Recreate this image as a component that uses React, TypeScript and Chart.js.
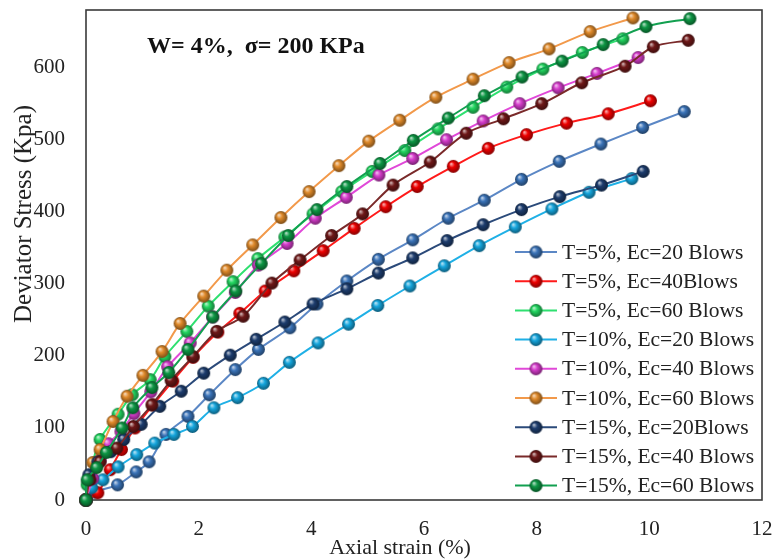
import React, { useEffect, useRef } from "react";
import { Chart, registerables } from "chart.js";

Chart.register(...registerables);

// ---------- data ----------
const seriesNames = [
  "T=5%, Ec=20 Blows",
  "T=5%, Ec=40Blows",
  "T=5%, Ec=60 Blows",
  "T=10%, Ec=20 Blows",
  "T=10%, Ec=40 Blows",
  "T=10%, Ec=60 Blows",
  "T=15%, Ec=20Blows",
  "T=15%, Ec=40 Blows",
  "T=15%, Ec=60 Blows",
];

const xTicks = [0, 2, 4, 6, 8, 10, 12];
const yTicks = [0, 100, 200, 300, 400, 500, 600];

const t5e20Strain = [0, 0.16, 0.56, 0.89, 1.12, 1.42, 1.81, 2.19, 2.65, 3.06, 3.62, 4.1, 4.63, 5.19, 5.8, 6.43, 7.07, 7.73, 8.4, 9.14, 9.88, 10.62];
const t5e20Stress = [0, 11, 21, 39, 53, 91, 116, 146, 181, 209, 239, 272, 304, 334, 361, 391, 416, 445, 470, 494, 517, 539];

const t5e40Strain = [0, 0.21, 0.43, 0.63, 0.87, 1.19, 1.54, 1.9, 2.34, 2.73, 3.18, 3.69, 4.21, 4.76, 5.32, 5.88, 6.52, 7.14, 7.82, 8.53, 9.27, 10.02];
const t5e40Stress = [0, 10, 42, 70, 100, 132, 165, 198, 233, 259, 290, 318, 346, 377, 407, 435, 463, 488, 507, 523, 536, 554];

const t5e60Strain = [0, 0.02, 0.25, 0.57, 0.82, 1.14, 1.4, 1.79, 2.17, 2.61, 3.05, 3.53, 4.03, 4.54, 5.08, 5.66, 6.25, 6.87, 7.47, 8.11, 8.81, 9.53];
const t5e60Stress = [0, 21, 84, 119, 146, 167, 199, 234, 269, 303, 335, 365, 397, 428, 456, 485, 515, 545, 573, 598, 621, 640];

const t10e20Strain = [0, 0.1, 0.3, 0.57, 0.9, 1.22, 1.56, 1.89, 2.27, 2.69, 3.15, 3.61, 4.12, 4.66, 5.18, 5.75, 6.36, 6.98, 7.62, 8.27, 8.93, 9.69];
const t10e20Stress = [0, 17, 28, 46, 63, 79, 91, 102, 128, 142, 162, 191, 218, 244, 270, 297, 325, 353, 379, 404, 427, 446];

const t10e40Strain = [0, 0.12, 0.25, 0.4, 0.62, 0.85, 1.15, 1.45, 1.85, 2.25, 2.65, 3.06, 3.57, 4.07, 4.62, 5.2, 5.8, 6.4, 7.05, 7.7, 8.38, 9.07, 9.8];
const t10e40Stress = [0, 30, 55, 78, 95, 120, 150, 185, 218, 254, 288, 326, 356, 391, 420, 451, 474, 500, 526, 550, 572, 592, 614];

const t10e60Strain = [0, 0.12, 0.25, 0.48, 0.73, 1.01, 1.35, 1.67, 2.09, 2.5, 2.96, 3.46, 3.96, 4.49, 5.02, 5.57, 6.21, 6.87, 7.51, 8.22, 8.95, 9.71];
const t10e60Stress = [0, 52, 70, 109, 144, 173, 206, 245, 283, 319, 354, 392, 428, 464, 498, 527, 559, 584, 607, 626, 650, 669];

const t15e20Strain = [0, 0.05, 0.21, 0.44, 0.67, 0.98, 1.31, 1.69, 2.09, 2.56, 3.02, 3.53, 4.03, 4.63, 5.19, 5.8, 6.41, 7.05, 7.73, 8.41, 9.15, 9.89];
const t15e20Stress = [0, 35, 53, 67, 84, 105, 130, 151, 176, 201, 223, 247, 272, 293, 315, 336, 360, 382, 403, 421, 437, 456];

const t15e40Strain = [0, 0.07, 0.25, 0.55, 0.84, 1.17, 1.51, 1.9, 2.32, 2.79, 3.3, 3.8, 4.36, 4.91, 5.45, 6.11, 6.75, 7.41, 8.09, 8.8, 9.57, 10.07, 10.69];
const t15e40Stress = [0, 28, 53, 72, 102, 132, 166, 199, 234, 255, 301, 333, 367, 397, 437, 469, 509, 529, 550, 579, 602, 629, 638];

const t15e60Strain = [0, 0.02, 0.19, 0.36, 0.64, 0.83, 1.17, 1.47, 1.81, 2.25, 2.66, 3.11, 3.59, 4.1, 4.63, 5.22, 5.81, 6.43, 7.07, 7.74, 8.45, 9.18, 9.94, 10.72];
const t15e60Stress = [0, 28, 45, 66, 100, 128, 156, 177, 209, 254, 290, 328, 367, 403, 435, 467, 499, 530, 561, 587, 609, 632, 657, 668];

const strainSets = [t5e20Strain, t5e40Strain, t5e60Strain, t10e20Strain, t10e40Strain, t10e60Strain, t15e20Strain, t15e40Strain, t15e60Strain];
const stressSets = [t5e20Stress, t5e40Stress, t5e60Stress, t10e20Stress, t10e40Stress, t10e60Stress, t15e20Stress, t15e40Stress, t15e60Stress];

const lineColors = ["#5b87c5", "#ff1a1a", "#2fe070", "#1fb0e6", "#e048d8", "#f2994a", "#2b4a7a", "#7a2a2a", "#12a050"];
const markerColors = ["#3a73b8", "#ee0000", "#22d660", "#16a6dd", "#d63ccc", "#e08a2a", "#1d3d6e", "#6e1818", "#0d9644"];

const annotationText = "W= 4%,  \u03c3= 200 KPa";
const xTitle = "Axial strain (%)";
const yTitle = "Deviator Stress (Kpa)";

const FONT = "'Liberation Serif', 'Times New Roman', serif";

// ---------- helpers ----------
function mix(hex: string, t: number, target: number) {
  const n = parseInt(hex.slice(1), 16);
  const r = (n >> 16) & 255, g = (n >> 8) & 255, b = n & 255;
  const f = (c: number) => Math.round(c + (target - c) * t);
  return `rgb(${f(r)},${f(g)},${f(b)})`;
}

function makeSphere(color: string, r: number) {
  const s = Math.ceil(r * 2 + 2);
  const c = document.createElement("canvas");
  c.width = s;
  c.height = s;
  const g = c.getContext("2d")!;
  const cx = s / 2, cy = s / 2;
  const grad = g.createRadialGradient(cx - r * 0.35, cy - r * 0.4, r * 0.05, cx, cy, r);
  grad.addColorStop(0, mix(color, 0.7, 255));
  grad.addColorStop(0.4, color);
  grad.addColorStop(1, mix(color, 0.45, 0));
  g.fillStyle = grad;
  g.beginPath();
  g.arc(cx, cy, r, 0, Math.PI * 2);
  g.fill();
  return c;
}

export default function App() {
  const ref = useRef<HTMLCanvasElement | null>(null);

  useEffect(() => {
    if (!ref.current) return;
    const spheres = markerColors.map((c) => makeSphere(c, 6.5));

    const datasets = seriesNames.map((name, i) => ({
      label: name,
      data: strainSets[i].map((x, j) => ({ x, y: stressSets[i][j] })),
      borderColor: lineColors[i],
      backgroundColor: markerColors[i],
      borderWidth: 2,
      pointStyle: spheres[i] as any,
      pointRadius: 6,
      pointHoverRadius: 6,
      tension: 0.3,
      clip: false as any,
      order: seriesNames.length - i,
    }));

    const decor = {
      id: "decor",
      beforeDatasetsDraw(chart: any) {
        const { ctx, chartArea: a } = chart;
        ctx.save();
        ctx.strokeStyle = "#3a3a3a";
        ctx.lineWidth = 1.6;
        ctx.strokeRect(a.left, a.top, a.right - a.left, a.bottom - a.top);
        ctx.restore();
      },
      afterDraw(chart: any) {
        const { ctx } = chart;
        ctx.save();
        // annotation
        ctx.fillStyle = "#111";
        ctx.font = `bold 24px ${FONT}`;
        ctx.textAlign = "left";
        ctx.textBaseline = "middle";
        ctx.fillText(annotationText, 147, 47);
        // axis titles
        ctx.font = `22px ${FONT}`;
        ctx.fillStyle = "#222";
        ctx.textAlign = "center";
        ctx.fillText(xTitle, 400, 548);
        ctx.save();
        ctx.translate(24, 214);
        ctx.rotate(-Math.PI / 2);
        ctx.font = `25px ${FONT}`;
        ctx.fillText(yTitle, 0, 0);
        ctx.restore();
        // legend
        ctx.font = `21.5px ${FONT}`;
        ctx.textAlign = "left";
        ctx.textBaseline = "middle";
        seriesNames.forEach((name, i) => {
          const y = 252 + i * 29.2;
          ctx.strokeStyle = lineColors[i];
          ctx.lineWidth = 2;
          ctx.beginPath();
          ctx.moveTo(515, y);
          ctx.lineTo(557, y);
          ctx.stroke();
          const sp = spheres[i];
          ctx.drawImage(sp, 536 - sp.width / 2, y - sp.height / 2);
          ctx.fillStyle = "#222";
          ctx.fillText(name, 562, y + 1);
        });
        ctx.restore();
      },
    };

    const chart = new Chart(ref.current, {
      type: "line",
      data: { datasets: datasets as any },
      options: {
        responsive: false,
        animation: false,
        layout: { padding: { top: 10, right: 12, left: 0, bottom: 0 } },
        plugins: { legend: { display: false }, tooltip: { enabled: false } },
        scales: {
          x: {
            type: "linear",
            min: 0,
            max: 12,
            grid: { display: false, drawTicks: false },
            border: { display: false },
            ticks: { color: "#222", font: { family: FONT, size: 21 }, padding: 17 },
            afterBuildTicks: (s: any) => {
              s.ticks = xTicks.map((v) => ({ value: v }));
            },
            afterFit: (s: any) => {
              s.height = 60;
              s.paddingLeft = 0;
              s.paddingRight = 0;
            },
          },
          y: {
            type: "linear",
            min: 0,
            max: 680,
            grid: { display: false, drawTicks: false },
            border: { display: false },
            ticks: { color: "#222", font: { family: FONT, size: 21 }, padding: 21 },
            afterBuildTicks: (s: any) => {
              s.ticks = yTicks.map((v) => ({ value: v }));
            },
            afterFit: (s: any) => {
              s.width = 86;
              s.paddingTop = 0;
              s.paddingBottom = 0;
            },
          },
        },
      },
      plugins: [decor],
    });
    return () => chart.destroy();
  }, []);

  return (
    <div style={{ position: "absolute", left: 0, top: 0, width: 774, height: 560, background: "#fff" }}>
      <canvas ref={ref} width={774} height={560} />
    </div>
  );
}
